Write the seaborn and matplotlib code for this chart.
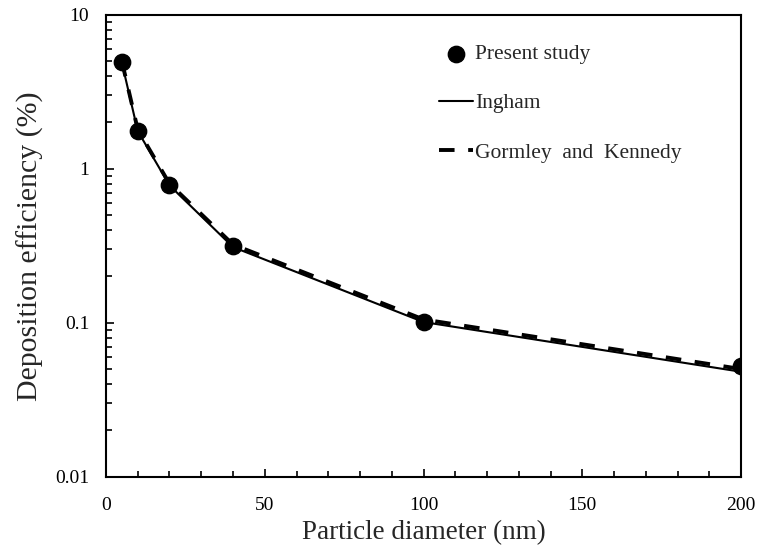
import matplotlib
matplotlib.use("Agg")
import matplotlib.pyplot as plt
import seaborn as sns
import pandas as pd
from matplotlib.ticker import MultipleLocator, LogLocator, FixedLocator, FixedFormatter

# data
diameter = [5, 10, 20, 40, 100, 200]
present_study = [4.95, 1.75, 0.78, 0.316, 0.101, 0.052]
ingham = [4.9, 1.76, 0.78, 0.31, 0.101, 0.048]
gormley_kennedy = [5.0, 1.80, 0.80, 0.322, 0.105, 0.050]

sns.set_style("ticks")
plt.rcParams['font.family'] = ['Liberation Serif', 'DejaVu Serif']

df = pd.DataFrame({"d": diameter, "present": present_study,
                   "ingham": ingham, "gk": gormley_kennedy})

fig, ax = plt.subplots(figsize=(7.57, 5.51), dpi=100)

sns.lineplot(data=df, x="d", y="gk", ax=ax, color="black", lw=2.8,
             linestyle=(0, (4, 3.5)), label="Gormley  and  Kennedy")
sns.lineplot(data=df, x="d", y="ingham", ax=ax, color="black", lw=1.5,
             label="Ingham")
sns.scatterplot(data=df, x="d", y="present", ax=ax, color="black", s=140,
                edgecolor="black", zorder=5, label="Present study")

ax.set_yscale("log")
ax.set_xlim(0, 200)
ax.set_ylim(0.01, 10)
ax.xaxis.set_major_locator(MultipleLocator(50))
ax.xaxis.set_minor_locator(MultipleLocator(10))
ax.yaxis.set_major_locator(FixedLocator([0.01, 0.1, 1, 10]))
ax.yaxis.set_major_formatter(FixedFormatter(["0.01", "0.1", "1", "10"]))
ax.yaxis.set_minor_locator(LogLocator(base=10, subs=range(2, 10)))

ax.tick_params(which="both", direction="in", top=False, right=False, colors="black")
ax.tick_params(which="major", length=6, width=1.2, labelsize=14)
ax.tick_params(axis="y", which="major", pad=12)
ax.tick_params(axis="x", which="major", pad=15)
ax.tick_params(which="minor", length=4, width=1.2)
for s in ax.spines.values():
    s.set_linewidth(1.5)
    s.set_color("black")

ax.set_xlabel("Particle diameter (nm)", fontsize=19.5, labelpad=4)
ax.set_ylabel("Deposition efficiency (%)", fontsize=21.5, labelpad=8)

handles, labels = ax.get_legend_handles_labels()
order = [labels.index("Present study"), labels.index("Ingham"),
         labels.index("Gormley  and  Kennedy")]
ax.legend([handles[i] for i in order], [labels[i] for i in order],
          loc="upper left", frameon=False, fontsize=15.5, handlelength=1.6,
          labelspacing=1.35, bbox_to_anchor=(0.51, 0.955), handletextpad=0.1,
          borderaxespad=0)

fig.subplots_adjust(left=0.14, right=0.979, top=0.973, bottom=0.135)
fig.savefig("out.png", dpi=100)
